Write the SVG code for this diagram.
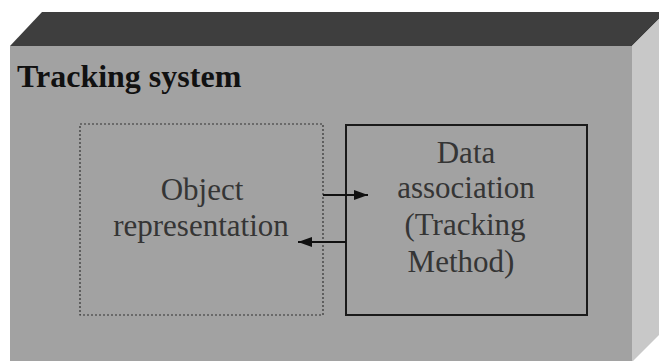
<svg xmlns="http://www.w3.org/2000/svg" width="659" height="361" viewBox="0 0 659 361">
<style>
.lbl{font-family:"Liberation Serif","Times New Roman",serif;font-size:31px;fill:#353535;text-anchor:middle}
.title{font-family:"Liberation Serif","Times New Roman",serif;font-size:32px;font-weight:bold;fill:#111}
.conn{stroke:#111;stroke-width:2;fill:none}
</style>
<defs>
<marker id="ah2" viewBox="0 0 14 10" refX="14" refY="5" markerWidth="14" markerHeight="10" markerUnits="userSpaceOnUse" orient="auto">
<path d="M0,0 L14,5 L0,10 z" fill="#111"/>
</marker>
</defs>
<rect width="659" height="361" fill="#ffffff"/>
<g id="container">
<polygon points="10,46 42,12 666,12 632,46" fill="#3e3e3e"/>
<polygon points="10,46 632,46 632,361 10,361" fill="#a2a2a2"/>
<polygon points="632,46 666,12 666,328 632,362" fill="#c8c8c8"/>
<text class="title" x="17" y="87">Tracking system</text>
</g>
<g id="object-representation">
<rect x="80" y="124" width="243" height="191" fill="none" stroke="#333" stroke-width="1.2" stroke-dasharray="2 2"/>
<text class="lbl" x="202" y="200">Object</text>
<text class="lbl" x="201" y="236">representation</text>
</g>
<g id="data-association">
<rect x="346" y="125" width="241" height="190" fill="none" stroke="#1a1a1a" stroke-width="2"/>
<text class="lbl" x="466" y="163">Data</text>
<text class="lbl" x="466" y="198">association</text>
<text class="lbl" x="465" y="235">(Tracking</text>
<text class="lbl" x="461" y="272">Method)</text>
</g>
<g id="connectors">
<line class="conn" x1="323" y1="195" x2="368" y2="195" marker-end="url(#ah2)"/>
<line class="conn" x1="346" y1="242" x2="298" y2="242" marker-end="url(#ah2)"/>
</g>
</svg>
